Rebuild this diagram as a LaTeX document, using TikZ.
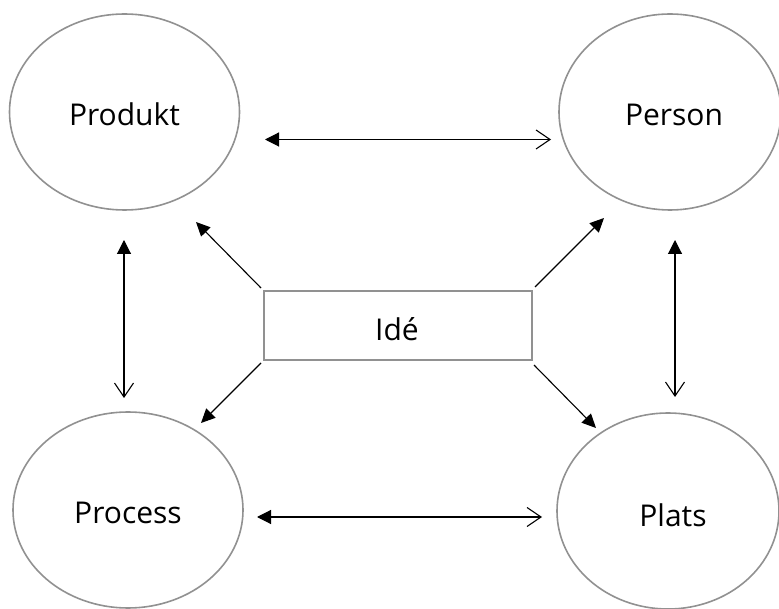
\documentclass[tikz,border=0pt]{standalone}
\usepackage{fontspec}
\setmainfont{Open Sans}
\usetikzlibrary{shapes.geometric,arrows.meta}
\tikzset{
  bubble/.style={ellipse, draw=gray!85!black!75, line width=1.6pt, inner sep=0pt, minimum width=230pt, minimum height=196pt},
  lbl/.style={font=\fontsize{30}{36}\selectfont, inner sep=0pt},
  idebox/.style={rectangle, draw=gray!85!black!75, line width=2.2pt, minimum width=268pt, minimum height=69pt, inner sep=0pt},
  conn/.style={line width=1.1pt, black},
  ftip/.style={-{Triangle[length=14pt,width=13pt]}},
  both/.style={{Triangle[length=14pt,width=14pt]}-{Straight Barb[length=14pt,width=19pt,line width=1.1pt]}}
}
\begin{document}
\begin{tikzpicture}[x=1pt,y=1pt]
\useasboundingbox (0,0) rectangle (779,608);
\node[bubble] (produkt) at (124.5,496) {};
\node[bubble, minimum width=222pt] (person) at (670,496) {};
\node[bubble] (process) at (128,98) {};
\node[bubble, minimum width=222pt] (plats) at (668,97) {};
\node[lbl] (tprodukt) at (124.5,494) {Produkt};
\node[lbl] (tperson) at (674,493) {Person};
\node[lbl] (tprocess) at (128,95) {Process};
\node[lbl] (tplats) at (673,93) {Plats};
\node[idebox] (ide) at (398,282.5) {};
\node[lbl] (tide) at (397,279) {Idé};
% connector end points
\coordinate (a1) at (265,468.5); \coordinate (a2) at (551,468.5);
\coordinate (b1) at (257,91);    \coordinate (b2) at (542,91);
\coordinate (c1) at (124,368);   \coordinate (c2) at (124,210);
\coordinate (d1) at (675,368);   \coordinate (d2) at (675,211);
\coordinate (e1) at (261,320);   \coordinate (e2) at (196,386);
\coordinate (f1) at (535,321);   \coordinate (f2) at (604,390);
\coordinate (g1) at (261,245);   \coordinate (g2) at (201,185);
\coordinate (h1) at (534,243);   \coordinate (h2) at (596,180);
\draw[conn, both] (a1) -- (a2);
\draw[conn, both] (b1) -- (b2);
\draw[conn, both] (c1) -- (c2);
\draw[conn, both] (d1) -- (d2);
\draw[conn, ftip] (e1) -- (e2);
\draw[conn, ftip] (f1) -- (f2);
\draw[conn, ftip] (g1) -- (g2);
\draw[conn, ftip] (h1) -- (h2);
\end{tikzpicture}
\end{document}
